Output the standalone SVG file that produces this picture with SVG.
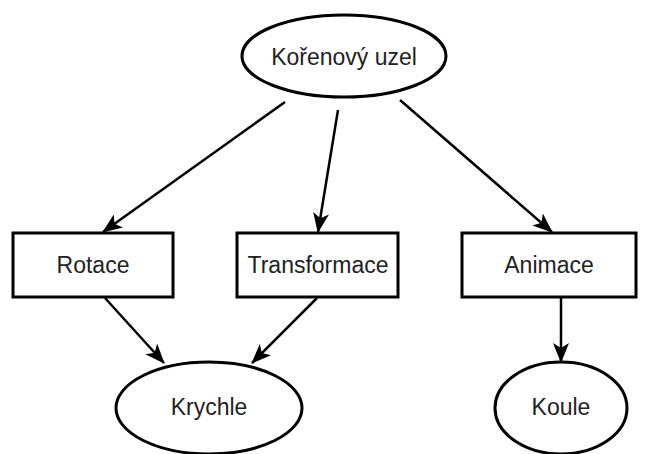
<svg xmlns="http://www.w3.org/2000/svg" width="646" height="454" viewBox="0 0 646 454">
<style>
.n{fill:#fff;stroke:#000;stroke-width:3}
.t{font-family:"Liberation Sans",Arial,sans-serif;font-size:23px;fill:#222;text-anchor:middle}
.e{stroke:#000;stroke-width:2.5;fill:none;marker-end:url(#ah)}
</style>
<defs>
<marker id="ah" viewBox="0 0 20 16" refX="19" refY="8" markerWidth="20" markerHeight="16" markerUnits="userSpaceOnUse" orient="auto">
<path d="M0,0 L20,8 L0,16 L5,8 z" fill="#000"/>
</marker>
</defs>
<rect width="646" height="454" fill="#fff"/>
<g id="edges">
<line class="e" x1="285" y1="102" x2="103" y2="232"/>
<line class="e" x1="338" y1="110" x2="318" y2="232"/>
<line class="e" x1="400" y1="100" x2="552" y2="232"/>
<line class="e" x1="105" y1="298" x2="164" y2="363"/>
<line class="e" x1="317" y1="298" x2="252" y2="363"/>
<line class="e" x1="561" y1="298" x2="561" y2="362"/>
</g>
<g id="root"><ellipse class="n" cx="344" cy="56" rx="102" ry="41"/><text class="t" x="344" y="65">Kořenový uzel</text></g>
<g id="rotace"><rect class="n" x="13" y="233" width="160" height="64"/><text class="t" x="93" y="273">Rotace</text></g>
<g id="transformace"><rect class="n" x="237" y="233" width="161" height="64"/><text class="t" x="318" y="273">Transformace</text></g>
<g id="animace"><rect class="n" x="462" y="233" width="174" height="64"/><text class="t" x="549" y="273">Animace</text></g>
<g id="krychle"><ellipse class="n" cx="209" cy="408" rx="93" ry="46"/><text class="t" x="209" y="415">Krychle</text></g>
<g id="koule"><ellipse class="n" cx="561" cy="408" rx="66" ry="46"/><text class="t" x="561" y="415">Koule</text></g>
</svg>
